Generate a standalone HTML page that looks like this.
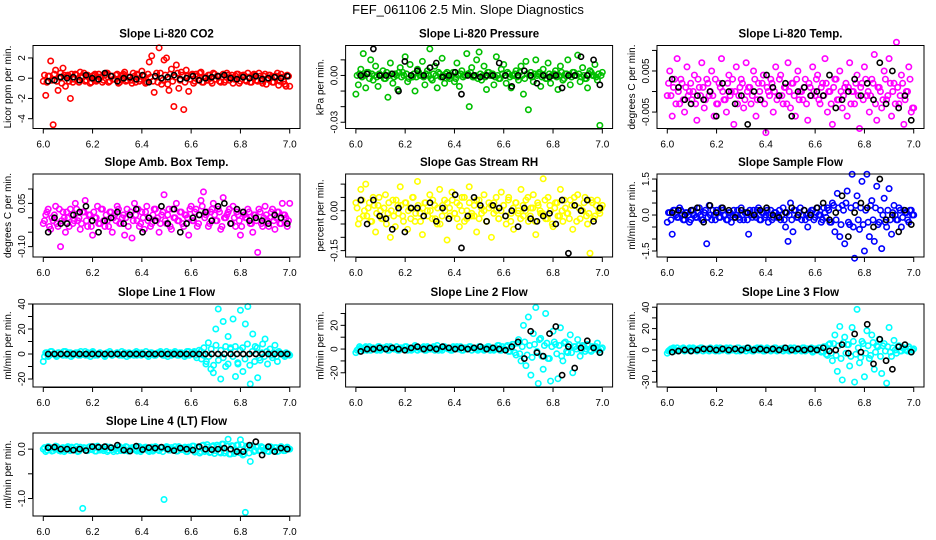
<!DOCTYPE html>
<html><head><meta charset="utf-8"><title>FEF_061106 2.5 Min. Slope Diagnostics</title>
<style>
html,body{margin:0;padding:0;background:#fff;}
svg{display:block;font-family:"Liberation Sans",Arial,sans-serif;}
</style></head>
<body>
<svg id="chart" width="936" height="540" viewBox="0 0 936 540" xmlns="http://www.w3.org/2000/svg">
<text x="468" y="14" text-anchor="middle" font-size="13">FEF_061106  2.5 Min. Slope Diagnostics</text>
</svg>
<script>
// ---- data (time axis is evenly spaced over 6.0-7.0) ----
const xTickLabels = ["6.0","6.2","6.4","6.6","6.8","7.0"];
const xTicks = [6.0,6.2,6.4,6.6,6.8,7.0];

const co2Values = [-0.3,-1.7,0.2,1.7,-4.6,0.8,-1.2,0.5,1.0,-0.8,0.3,-2.0,-0.4,0.4,-0.2,0.6,0.1,-0.3,0.3,-0.5,0.2,0.4,-0.2,0.1,-0.4,0.3,0.5,-0.3,0.2,-0.1,0.4,-0.4,0.3,0.6,-0.2,0.1,-0.5,0.2,0.4,-0.3,0.7,0.2,-0.4,1.6,2.2,-1.4,0.5,3.0,-0.6,1.8,2.0,-1.2,0.9,-2.8,1.3,-1.0,0.6,-3.1,0.8,-1.3,0.3,-0.5,0.4,-0.2,0.6,-0.4,0.1,0.3,-0.3,0.5,-0.1,0.2,-0.4,0.4,-0.2,0.3,0.1,-0.5,0.2,0.4,-0.3,0.3,-0.2,0.5,-0.4,0.1,0.3,-0.3,0.2,-0.5,0.4,-0.1,0.3,-0.4,0.2,0.5,-0.3,0.1,-0.6,0.3,-0.8];
const co2Band = [0.3,-0.4,0.2,-0.2,0.4,-0.3,0.1,-0.5,0.3,0.2,-0.3,0.4,-0.1,0.3,-0.4,0.2,0.5,-0.2,0.1,-0.4,0.3,-0.3,0.4,0.1,-0.2,0.5,-0.4,0.2,-0.1,0.3,-0.5,0.2,0.4,-0.3,0.1,-0.2,0.5,-0.4,0.3,-0.1,0.2,-0.5,0.4,0.1,-0.3,0.2,-0.4,0.5,-0.2,0.3,-0.6,0.4,-0.3,0.1,0.5,-0.2,0.3,-0.4,0.2,-0.1,0.4,-0.3,0.2,0.5,-0.4,0.1,-0.2,0.3,-0.5,0.4,0.2,-0.3,0.1,-0.4,0.5,-0.2,0.3,-0.1,0.4,-0.5,0.2,0.3,-0.3,0.1,-0.4,0.4,-0.2,0.5,-0.3,0.2,-0.6,0.3,0.1,-0.4,0.2,-0.7,0.4,-0.3,-0.8,0.2];
const co2Black = [-0.3,-0.2,0.1,0,0.1,-0.2,0.3,0,-0.1,0.5,0.2,-0.3,0,0.1,-0.1,0.3,-0.4,0.2,0,0.1,0.3,-0.1,0,0.2,-0.2,0,0.1,0.2,0.3,0,-0.1,0.1,0,0.2,-0.1,0,0.1,0,0.2];

const pressureMilli = [-12,-6,4,14,-8,2,10,-3,6,-7,0,3,-2,-14,8,-5,1,-9,5,2,12,-4,7,-1,-10,4,0,9,-6,3,17,-3,6,-8,1,11,-5,2,-2,0,-4,8,-7,3,0,14,-20,5,-1,10,15,-3,6,-9,2,0,-6,12,-2,4,7,-5,1,-8,0,3,-3,6,-12,9,-22,2,-4,10,1,-7,4,-2,8,-5,0,3,-9,6,-3,1,10,-6,2,0,13,-4,5,-2,-8,3,0,7,-3,-32,2];
const pressureBandMilli = [0,1,-1,0,2,-2,1,0,-1,1,0,-2,2,0,1,-1,0,2,-1,0,1,-2,0,1,-1,2,0,-1,1,0,-2,1,0,2,-1,0,1,-1,0,2,-2,0,1,-1,0,1,2,-1,0,-2,1,0,-1,2,0,1,-1,0,-2,1,0,2,-1,0,1,-1,2,0,-2,1,0,-1,1,0,2,-1,0,-2,1,0,1,-1,0,2,-2,1,0,-1,2,0,1,-1,0,-2,1,2,0,-1,1,0];
const pressureBlackMilli = [0,1,17,0,0,1,-10,9,0,3,0,5,8,-1,0,2,-12,0,0,-1,0,0,8,0,-7,0,3,0,-5,0,-1,0,-8,0,0,12,0,10,-6];

const tempMilli = [-1,5,-6,3,8,-3,2,-5,6,0,-2,4,-7,1,7,-4,3,-1,5,-6,-3,2,8,-2,-5,4,0,-8,6,-1,3,-4,7,1,-3,5,-6,2,-2,4,-10,0,3,-5,6,-1,4,-3,1,7,-4,2,-6,5,0,-2,3,-7,1,6,-1,4,-3,2,8,-5,0,-8,3,-2,5,-4,1,-6,7,0,-3,4,-9,2,6,-1,-5,3,9,-7,1,-4,5,-2,8,-6,2,12,-3,4,-8,0,6,-5,-4];
const tempBandMilli = [2,-1,1,-3,0,3,-2,1,-1,2,0,-3,3,-1,1,-2,2,0,-1,3,-3,1,0,-2,2,-1,3,0,-3,1,2,-2,0,1,-1,3,-2,0,2,-3,1,-1,2,0,-2,3,-1,1,-3,0,2,-1,3,-2,0,1,-3,2,-1,0,3,-2,1,-1,2,0,-3,1,3,-2,0,-1,2,1,-3,0,2,-1,1,-2,3,0,-1,2,-3,1,0,-2,3,-1,2,0,-3,1,-1,2,-2,0,3,-4];
const tempBlackMilli = [3,1,-2,-3,-1,-2,0,-6,2,0,-3,-1,-8,0,-2,4,1,-1,2,-6,0,1,-1,0,-1,4,-4,-2,0,3,-1,2,-2,7,-3,5,-4,-1,-7];

const ambCenti = [-2,1,3,-4,-1,4,-3,-10,2,-5,0,3,-2,5,-1,-4,2,6,-3,1,-6,0,4,-2,3,-3,-1,2,-5,1,4,-2,0,-6,3,1,-7,5,-1,-3,2,-4,4,0,-2,3,-1,-5,1,8,-2,3,-4,0,5,-1,2,-3,1,-6,4,-1,3,-2,6,9,1,-3,2,5,-1,3,-4,7,0,2,-2,4,-3,1,-6,2,0,3,-2,-5,1,-12,2,-3,4,-1,0,3,-4,2,-2,5,1,-3,5];
const ambBandCenti = [-1,2,-3,0,1,-2,3,-1,0,2,-3,1,-1,3,0,-2,2,-1,1,-3,2,0,-2,3,-1,1,-3,2,0,-1,3,-2,1,0,-3,2,-1,1,3,-2,0,2,-1,-3,1,3,0,-2,2,-1,1,-3,3,0,-1,2,-2,1,0,3,-1,2,-3,1,4,0,2,-2,3,1,-1,2,-3,0,1,3,-2,0,2,-1,-3,1,0,2,-2,1,-1,3,-2,0,1,-3,2,-1,0,2,-2,1,0,-1];
const ambBlackCenti = [-5,0,-2,-2,1,2,4,-1,-5,-1,0,2,-2,1,3,-5,0,-1,4,-2,3,-5,-2,0,1,2,-1,4,5,-2,3,2,-1,0,-1,-2,1,0,-2];

const rhCenti = [3,-5,8,-2,10,1,-4,5,-8,2,0,-3,6,-1,-10,4,-6,2,9,-2,3,-7,1,5,-4,11,-1,-9,3,0,6,-3,2,-5,8,-2,4,-11,1,7,-1,3,-6,0,5,-3,9,-2,2,-8,4,-1,6,-4,1,-10,3,0,-3,7,2,-5,5,-1,-7,3,0,8,-2,4,-4,1,6,-9,2,-1,12,-3,5,0,-6,3,-2,8,-4,1,-1,4,-7,2,6,-3,0,5,-5,-16,3,-2,4,-1,2];
const rhBandCenti = [1,-3,4,0,-2,3,-4,2,-1,5,-3,1,-5,3,0,-2,4,-1,2,-4,3,0,-3,5,-1,2,-4,1,3,-2,0,4,-3,1,-5,2,0,3,-2,4,-1,-3,2,5,-4,0,3,-1,-2,4,-3,1,0,-4,3,2,-1,5,-3,0,2,-2,4,-4,1,3,-1,-3,2,0,5,-2,1,-4,3,0,-1,4,-3,2,-5,1,3,-2,0,4,-1,-3,2,5,-4,1,0,3,-2,-1,4,-3,2,0,1];
const rhBlackCenti = [4,-5,4,-2,-3,-7,1,-8,1,1,-2,3,-4,1,-3,6,-14,-2,5,2,-4,2,1,-2,0,-6,1,-3,-4,-2,-1,-5,4,-16,2,0,4,-4,1];

const sampleFlow = [-0.3,0.1,-0.8,0.2,-0.1,0.3,0,-0.2,0.1,-0.3,0.2,0,-0.1,0.3,-0.2,0.1,-1.2,0.4,-0.2,0,0.2,-0.1,0.3,0,-0.2,0.1,-0.3,0.2,0,-0.1,0.3,-0.2,0.1,-0.8,0,0.2,-0.1,0.3,-0.2,0.1,0,-0.3,0.2,-0.1,0.1,0,-0.2,0.3,-0.5,-1.1,0.5,-0.7,0.2,-0.1,0.3,0,-0.2,-0.5,0.1,0.2,-0.1,0.3,0,-0.2,0.1,0.3,-0.3,0.5,-0.7,0.9,-0.9,0.4,-1.2,1.0,-0.4,1.7,-1.8,0.8,-0.6,1.4,-1.5,1.7,-0.9,0.6,-1.1,1.2,-0.3,-1.4,0.7,-0.5,1.1,-0.8,0.4,-0.2,0.3,-0.5,0.2,0.1,-0.3,0.2,0];
const sampleBand = [0.1,-0.2,0.2,0,-0.1,0.2,-0.2,0.1,0,-0.2,0.2,-0.1,0.1,0,-0.2,0.2,-0.1,0,0.2,-0.2,0.1,-0.1,0.2,0,-0.2,0.1,0,-0.1,0.2,-0.2,0,0.1,-0.2,0.2,-0.1,0,0.2,-0.2,0.1,-0.1,0.2,0,-0.2,0.1,-0.1,0.2,0,-0.2,0.1,0,-0.2,0.2,-0.1,0.1,-0.2,0.2,0,-0.1,0.2,-0.2,0.1,0,-0.3,0.3,-0.1,0.2,-0.3,0.4,-0.2,0.3,-0.4,0.2,0.5,-0.3,0.3,-0.5,0.4,-0.2,0.3,-0.4,0.2,-0.3,0.4,-0.2,0.3,-0.4,0.2,0,-0.3,0.2,-0.2,0.1,0,-0.2,0.2,-0.1,0.1,-0.2,0.2,0];
const sampleBlack = [0.1,0.2,0,0.2,0.3,-0.3,0.4,0.1,0.3,0.2,-0.1,0.2,0.1,0,0.2,0.3,0,-0.1,0.1,0.3,0,0.2,0,0.3,0.5,-0.2,0.1,0.8,-0.9,0.1,0.5,0.3,-0.5,1.5,-0.2,0,-0.7,0.2,-0.4];

const line1Flow = [-6,1,-2,2,0,-1,1,0,-1,2,0,1,-1,0,1,-1,0,2,-1,0,1,-1,0,1,0,-1,1,0,-1,0,1,0,-1,1,0,-1,0,1,-1,0,1,0,-1,0,1,-1,0,1,0,-1,2,0,-1,1,0,-1,1,0,-1,2,0,1,-1,0,2,-1,-8,9,-12,-15,20,36,-20,26,-10,14,5,28,-18,-8,35,-14,24,38,-24,16,6,-19,-5,8,12,-8,4,-3,7,-6,1,0,-2,0,-1];
const line1Band = [-2,1,-1,2,0,-2,1,0,2,-1,1,-2,0,1,-1,2,0,-1,1,-2,2,0,-1,1,0,-2,1,2,-1,0,1,-1,2,0,-2,1,0,-1,2,1,-1,0,2,-2,1,0,-1,1,2,-1,0,-2,1,0,2,-1,1,0,-2,2,-1,0,2,-3,3,-4,5,-6,-2,4,-9,7,-5,3,-3,6,-8,4,-2,6,-7,3,5,-4,8,-9,2,-6,5,-3,1,-2,2,0,-1,1,-2,2,0,-1,1,0];
const line1Black = [0,0,0,0,0,0,0,0,0,0,0,0,0,0,0,0,0,0,0,0,0,0,0,0,0,0,0,0,0,0,0,0,0,0,0,0,0,0,0];

const line2Flow = [-3,0,1,-1,2,0,-1,1,0,2,-1,1,0,-1,2,1,0,-1,1,0,2,-1,0,1,3,-1,0,1,-1,2,0,1,-1,3,0,-1,2,1,0,-1,1,2,0,-1,1,0,2,-1,1,0,2,0,-1,1,2,0,-1,1,3,-1,0,2,-2,1,4,-5,8,-10,20,-14,27,-22,13,35,-29,9,-17,30,-8,-27,15,4,-25,18,-10,6,-3,12,-20,2,8,-6,3,-2,4,-1,2,0,5,-3,1];
const line2Band = [-1,2,0,1,-1,2,1,0,-1,2,0,1,2,-1,1,0,2,-1,1,0,2,1,-1,0,2,1,0,2,-1,1,0,2,1,-1,0,2,1,0,-1,2,1,0,2,-1,1,0,2,1,0,-1,2,1,0,2,-1,1,0,3,-1,2,0,3,-2,4,-3,5,-4,2,6,-5,3,-7,4,-2,8,-6,3,5,-8,2,6,-4,3,-6,5,-2,4,-3,2,0,3,-1,2,0,3,-2,1,2,-1,0];
const line2Black = [-2,0,0,1,0,1,0,-1,1,2,0,1,0,2,1,0,1,0,1,2,0,1,0,-1,2,6,-8,15,-3,-6,13,19,-22,2,-16,1,7,1,-3];

const line3Flow = [-3,0,1,-1,2,0,1,-1,0,2,0,1,-1,0,2,1,0,-1,1,0,2,-1,0,1,2,-1,0,1,-1,2,0,1,-1,2,0,-1,1,0,2,-1,0,1,-1,0,2,0,1,-1,0,1,2,0,-1,1,0,2,-1,1,0,-2,1,0,2,-1,3,-5,6,-10,14,-20,22,-28,12,5,-15,21,-30,38,-12,8,-25,18,-8,14,-18,4,10,-22,6,-31,21,-6,9,-3,4,-1,2,0,3,-2,1];
const line3Band = [-1,1,2,0,-1,1,2,0,1,-1,2,0,1,2,-1,0,1,2,0,-1,1,2,0,1,-1,2,0,1,2,-1,0,1,2,0,-1,1,2,0,1,-1,2,0,1,2,-1,0,1,2,0,-1,1,2,0,1,-1,2,0,1,2,-1,0,2,-2,3,-4,5,-3,6,-5,4,-8,7,-3,5,-6,8,-4,2,-7,6,-3,4,-5,7,-2,3,-6,4,-1,3,-2,2,0,3,-1,2,0,-1,1,0];
const line3Black = [-2,-1,0,-1,0,1,1,0,1,0,1,0,2,0,1,0,1,0,2,0,1,0,1,0,2,-1,0,5,-3,15,-2,24,-13,10,-10,-18,3,5,-2];

const line4Flow = [0,-0.05,0.05,0.02,-0.03,0.06,0,-0.04,0.03,-0.02,0.05,-0.03,0.02,0,-0.05,0.04,-1.2,0.02,-0.03,0.05,0,-0.04,0.06,-0.02,0.03,0,-0.05,0.04,-0.01,0.02,-0.04,0.05,0,-0.03,0.04,-0.02,0.03,0,-0.04,0.05,-0.02,0.03,0,-0.05,0.04,-0.01,0.03,-0.03,0.02,-1.02,0.05,-0.02,0.03,0,-0.04,0.05,-0.01,0.02,-0.05,0.04,0,0.06,-0.03,0.02,-0.05,0.08,-0.02,0.04,-0.06,0.07,-0.03,0.05,-0.08,0.1,-0.04,0.2,-0.1,0.06,-0.05,0.08,0.19,-0.12,-1.28,0.04,-0.25,0.06,-0.03,0.05,-0.02,0.03,0,-0.04,0.05,-0.02,0.03,-0.05,0.02,0,-0.03,0.04,0];
const line4Band = [0.03,-0.02,0.04,-0.04,0.01,0.05,-0.03,0.02,-0.05,0.03,0,0.04,-0.02,0.05,-0.04,0.01,0.03,-0.03,0.04,-0.01,0.05,-0.04,0.02,0,-0.03,0.05,-0.02,0.03,-0.05,0.01,0.04,-0.03,0.02,0.05,-0.04,0,0.03,-0.02,0.05,-0.05,0.02,0.04,-0.03,0.01,-0.04,0.05,-0.01,0.03,-0.05,0.02,0.04,-0.02,0,0.05,-0.04,0.03,-0.01,0.04,-0.05,0.02,0.06,-0.06,0.04,-0.08,0.07,-0.05,0.09,-0.07,0.05,-0.09,0.08,-0.06,0.1,-0.08,0.06,-0.1,0.07,-0.09,0.08,-0.07,0.09,-0.1,0.06,-0.08,0.07,-0.05,0.04,-0.03,0.05,-0.04,0.02,-0.05,0.04,-0.02,0.03,-0.04,0.05,-0.03,0.02,0];
const line4Black = [0.03,0.04,0,0,-0.02,0,-0.03,0.05,0.04,0.05,0.03,0.08,-0.02,-0.04,0.06,-0.01,0.03,0.02,0.04,0,-0.03,0.02,0,-0.02,0.05,0,-0.01,0,0.02,0,-0.05,-0.05,0.08,0.15,-0.12,0.05,-0.05,0.02,0];

const panelTitles = ["Slope Li-820 CO2","Slope Li-820 Pressure","Slope Li-820 Temp.","Slope Amb. Box Temp.","Slope Gas Stream RH","Slope Sample Flow","Slope Line 1 Flow","Slope Line 2 Flow","Slope Line 3 Flow","Slope Line 4 (LT) Flow"];
const yTitles = ["Licor ppm per min.","kPa per min.","degrees C per min.","degrees C per min.","percent per min.","ml/min per min.","ml/min per min.","ml/min per min.","ml/min per min.","ml/min per min."];

// ---- layout ----
const NS = "http://www.w3.org/2000/svg";
const svg = document.getElementById("chart");
function mk(tag, attrs, parent){
  const e = document.createElementNS(NS, tag);
  for (const k in attrs) e.setAttribute(k, attrs[k]);
  (parent||svg).appendChild(e);
  return e;
}
const colX = [33, 345.6, 657];
const rowY = [45.5, 174, 304, 433];
const W = 267, H = 83;

const panels = [
  {c:0,r:0,color:"#ff0000",vals:co2Values,band:co2Band,blk:co2Black,lo:-4.97,hi:3.23,ticks:[-4,-2,0,2],labels:{"-4":"-4","-2":"-2","0":"0","2":"2"}},
  {c:1,r:0,color:"#00c000",vals:pressureMilli,band:pressureBandMilli,blk:pressureBlackMilli,lo:-34,hi:19.2,ticks:[-30,-20,-10,0,10],labels:{"0":"0.00","-30":"-0.03"}},
  {c:2,r:0,color:"#ff00ff",vals:tempMilli,band:tempBandMilli,blk:tempBlackMilli,lo:-9.0,hi:11.2,ticks:[-5,0,5,10],labels:{"5":"0.005","-5":"-0.005"}},
  {c:0,r:1,color:"#ff00ff",vals:ambCenti,band:ambBandCenti,blk:ambBlackCenti,lo:-13.6,hi:15.2,ticks:[-10,-5,0,5,10],labels:{"5":"0.05","-10":"-0.10"}},
  {c:1,r:1,color:"#ffff00",vals:rhCenti,band:rhBandCenti,blk:rhBlackCenti,lo:-17.4,hi:13.8,ticks:[-15,-10,-5,0,5,10],labels:{"0":"0.00","-15":"-0.15"}},
  {c:2,r:1,color:"#0000ff",vals:sampleFlow,band:sampleBand,blk:sampleBlack,lo:-1.75,hi:1.71,ticks:[-1.5,-1,-0.5,0,0.5,1,1.5],labels:{"1.5":"1.5","0":"0.0","-1.5":"-1.5"}},
  {c:0,r:2,color:"#00ffff",vals:line1Flow,band:line1Band,blk:line1Black,lo:-26.4,hi:40,ticks:[-20,-10,0,10,20,30,40],labels:{"-20":"-20","0":"0","20":"20","40":"40"}},
  {c:1,r:2,color:"#00ffff",vals:line2Flow,band:line2Band,blk:line2Black,lo:-32,hi:38,ticks:[-20,-10,0,10,20,30],labels:{"-20":"-20","0":"0","20":"20"}},
  {c:2,r:2,color:"#00ffff",vals:line3Flow,band:line3Band,blk:line3Black,lo:-34.6,hi:43,ticks:[-30,-20,-10,0,10,20,30,40],labels:{"-30":"-30","0":"0","20":"20","40":"40"}},
  {c:0,r:3,color:"#00ffff",vals:line4Flow,band:line4Band,blk:line4Black,lo:-1.354,hi:0.326,ticks:[-1,-0.5,0],labels:{"0":"0.0","-1":"-1.0"}}
];

panels.forEach((p, idx) => {
  const bx = colX[p.c], by = rowY[p.r];
  const g = mk("g", {});
  
  
  const xs = v => bx + W*(0.0385 + 0.923*(v-6));
  const ys = v => by + H*(p.hi - v)/(p.hi - p.lo);

  const t = mk("text", {x: bx + W/2, y: by - 8, "text-anchor":"middle", "font-size":"11.5", "font-weight":"bold"}, g);
  t.textContent = panelTitles[idx];
  
  

  const yt = mk("text", {transform:`translate(${bx-22},${by+H/2}) rotate(-90)`, "text-anchor":"middle", "font-size":"10"}, g);
  yt.textContent = yTitles[idx];
  
  

  // dense band points
  const nb = p.band.length;
  p.band.forEach((v,i) => {
    const c = mk("circle", {cx: xs(6.005 + 0.99*i/(nb-1)), cy: ys(v), r: 2.7, fill:"none", stroke:p.color, "stroke-width":1.6}, g);
    
    
  });
  // main points
  const n = p.vals.length;
  p.vals.forEach((v,i) => {
    const c = mk("circle", {cx: xs(6 + i/(n-1)), cy: ys(v), r: 2.7, fill:"none", stroke:p.color, "stroke-width":1.6}, g);
    
    
  });
  const m = p.blk.length;
  p.blk.forEach((v,i) => {
    const c = mk("circle", {cx: xs(6.02 + 0.97*i/(m-1)), cy: ys(v), r: 2.6, fill:"none", stroke:"#000", "stroke-width":1.6}, g);
    
    
  });

  const box = mk("rect", {x:bx, y:by, width:W, height:H, fill:"none", stroke:"#000", "stroke-width":1}, g);
  
  

  // x axis
  mk("line", {x1:xs(6), x2:xs(7), y1:by+H+0.5, y2:by+H+0.5, stroke:"#000"}, g);
  xTicks.forEach((v,i) => {
    mk("line", {x1:xs(v), x2:xs(v), y1:by+H, y2:by+H+5, stroke:"#000"}, g);
    const l = mk("text", {x:xs(v), y:by+H+19, "text-anchor":"middle", "font-size":"10"}, g);
    l.textContent = xTickLabels[i];
    
    
  });
  // y axis
  const tk = p.ticks;
  mk("line", {x1:bx-0.5, x2:bx-0.5, y1:ys(tk[0]), y2:ys(tk[tk.length-1]), stroke:"#000"}, g);
  tk.forEach(v => {
    mk("line", {x1:bx-5, x2:bx, y1:ys(v), y2:ys(v), stroke:"#000"}, g);
    const lab = p.labels[String(v)];
    if (lab !== undefined) {
      const l = mk("text", {transform:`translate(${bx-8},${ys(v)}) rotate(-90)`, "text-anchor":"middle", "font-size":"10"}, g);
      l.textContent = lab;
      
      
    }
  });
});
</script>
</body></html>
